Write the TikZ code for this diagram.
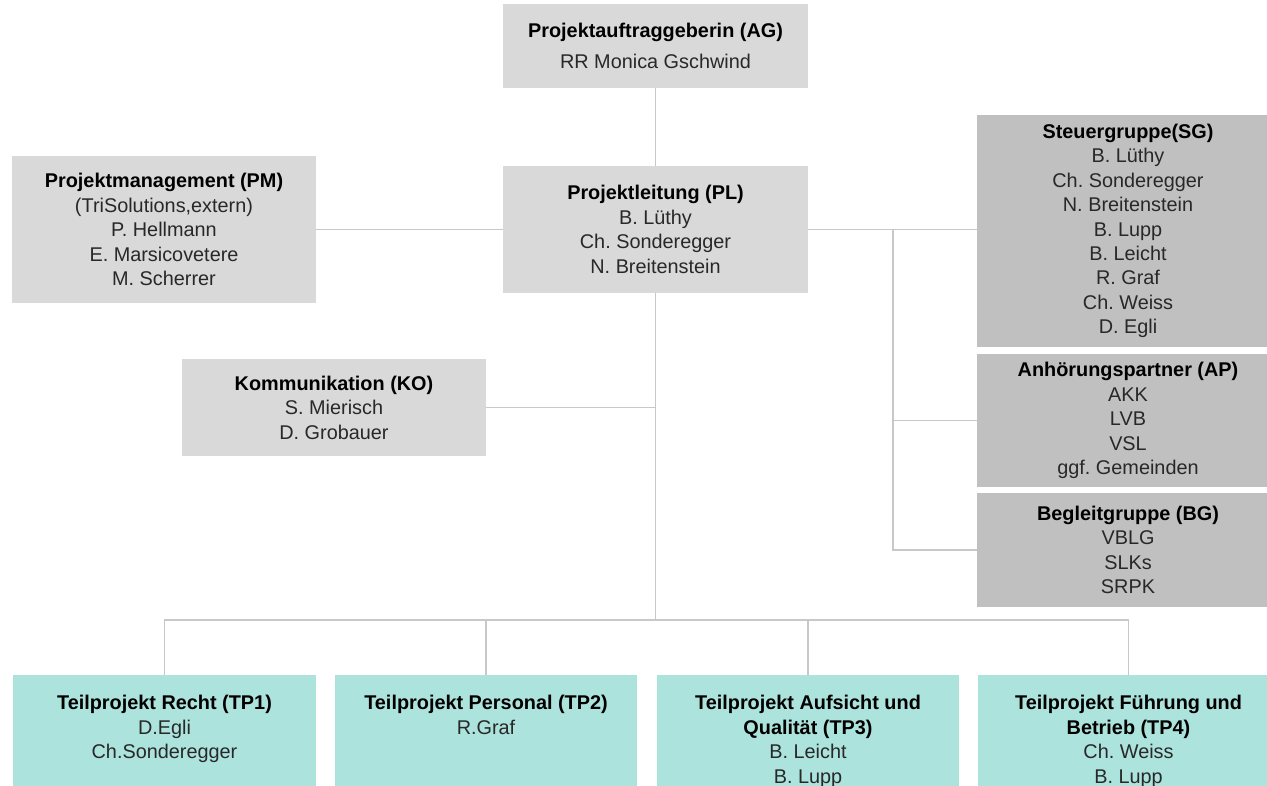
\documentclass[tikz,border=0pt]{standalone}
\usepackage{fontspec}
\setmainfont{Liberation Sans}
\frenchspacing
\definecolor{boxgray}{RGB}{217,217,217}
\definecolor{boxdark}{RGB}{192,192,192}
\definecolor{tpcyan}{RGB}{172,227,221}
\definecolor{linegray}{RGB}{200,200,200}
\definecolor{txtgray}{RGB}{40,40,40}
\begin{document}
\begin{tikzpicture}[x=0.02cm,y=-0.02cm]
       \tikzstyle{orgbox}=[fill=boxgray, inner sep=0pt, align=center, text=txtgray, font=\fontsize{11.3}{13.9}\selectfont\frenchspacing]
       \tikzstyle{groupbox}=[orgbox, fill=boxdark, minimum width=6.04cm]
       \tikzstyle{tpbox}=[orgbox, fill=tpcyan, anchor=north]
       \tikzstyle{link}=[draw=linegray, line width=1.1pt]
       \clip (0,0) rectangle (1267,786);
       \fill[white] (0,0) rectangle (1267,786);
       % top row
       \node[orgbox, minimum width=6.1cm, minimum height=1.68cm] (ag) at (655.5,46)
        {\textbf{\color{black}Projektauftraggeberin (AG)}\\[4pt] RR Monica Gschwind};
       \node[orgbox, minimum width=6.1cm, minimum height=2.54cm] (pl) at (655.5,229.5)
        {\textbf{\color{black}Projektleitung (PL)}\\ B. Lüthy\\ Ch. Sonderegger\\ N. Breitenstein};
       \node[orgbox, minimum width=6.08cm, minimum height=2.96cm] (pm) at (164,229.5)
        {\textbf{\color{black}Projektmanagement (PM)}\\ (TriSolutions,extern)\\ P. Hellmann\\ E. Marsicovetere\\ M. Scherrer};
       \node[orgbox, minimum width=6.08cm, minimum height=1.94cm] (ko) at (334,407.5)
        {\textbf{\color{black}Kommunikation (KO)}\\ S. Mierisch\\ D. Grobauer};
       % groups on the right
       \node[groupbox, minimum height=4.64cm] (sg) at (1128,231)
        {\textbf{\color{black}Steuergruppe(SG)}\\ B. Lüthy\\ Ch. Sonderegger\\ N. Breitenstein\\ B. Lupp\\ B. Leicht\\ R. Graf\\ Ch. Weiss\\ D. Egli};
       \node[groupbox, minimum height=2.66cm] (ap) at (1128,420.5)
        {\textbf{\color{black}Anhörungspartner (AP)}\\ AKK\\ LVB\\ VSL\\ ggf. Gemeinden};
       \node[groupbox, minimum height=2.28cm] (bg) at (1128,550)
        {\textbf{\color{black}Begleitgruppe (BG)}\\ VBLG\\ SLKs\\ SRPK};
       % teilprojekte
       \node[tpbox] (tp1) at (164.5,675) {\parbox[c][2.5cm][t]{6.06cm}{\centering\vspace*{0.4cm}%
        \textbf{\color{black}Teilprojekt Recht (TP1)}\\ D.Egli\\ Ch.Sonderegger}};
       \node[tpbox] (tp2) at (486,675) {\parbox[c][2.5cm][t]{6.04cm}{\centering\vspace*{0.4cm}%
        \textbf{\color{black}Teilprojekt Personal (TP2)}\\ R.Graf}};
       \node[tpbox] (tp3) at (808,675) {\parbox[c][2.5cm][t]{6.04cm}{\centering\vspace*{0.4cm}%
        \textbf{\color{black}Teilprojekt Aufsicht und}\\ \textbf{\color{black}Qualität (TP3)}\\ B. Leicht\\ B. Lupp}};
       \node[tpbox] (tp4) at (1128.5,675) {\parbox[c][2.5cm][t]{6.04cm}{\centering\vspace*{0.4cm}%
        \textbf{\color{black}Teilprojekt Führung und}\\ \textbf{\color{black}Betrieb (TP4)}\\ Ch. Weiss\\ B. Lupp}};
       % connectors
       \coordinate (fork) at (893,229.5);
       \coordinate (bus) at (655.5,620);
       \draw[link] (ag) -- (pl);
       \draw[link] (pm.east) -- (pm.east -| pl.west);
       \draw[link] (pl.east) -- (pl.east -| sg.west);
       \draw[link] (fork) |- (ap.west);
       \draw[link] (fork) |- (bg.west);
       \draw[link] (pl.south) -- (bus);
       \draw[link] (ko.east) -- (ko.east -| bus);
       \foreach \tp in {tp1,tp2,tp3,tp4}
        \draw[link] (bus) -| (\tp.north);
\end{tikzpicture}
\end{document}
